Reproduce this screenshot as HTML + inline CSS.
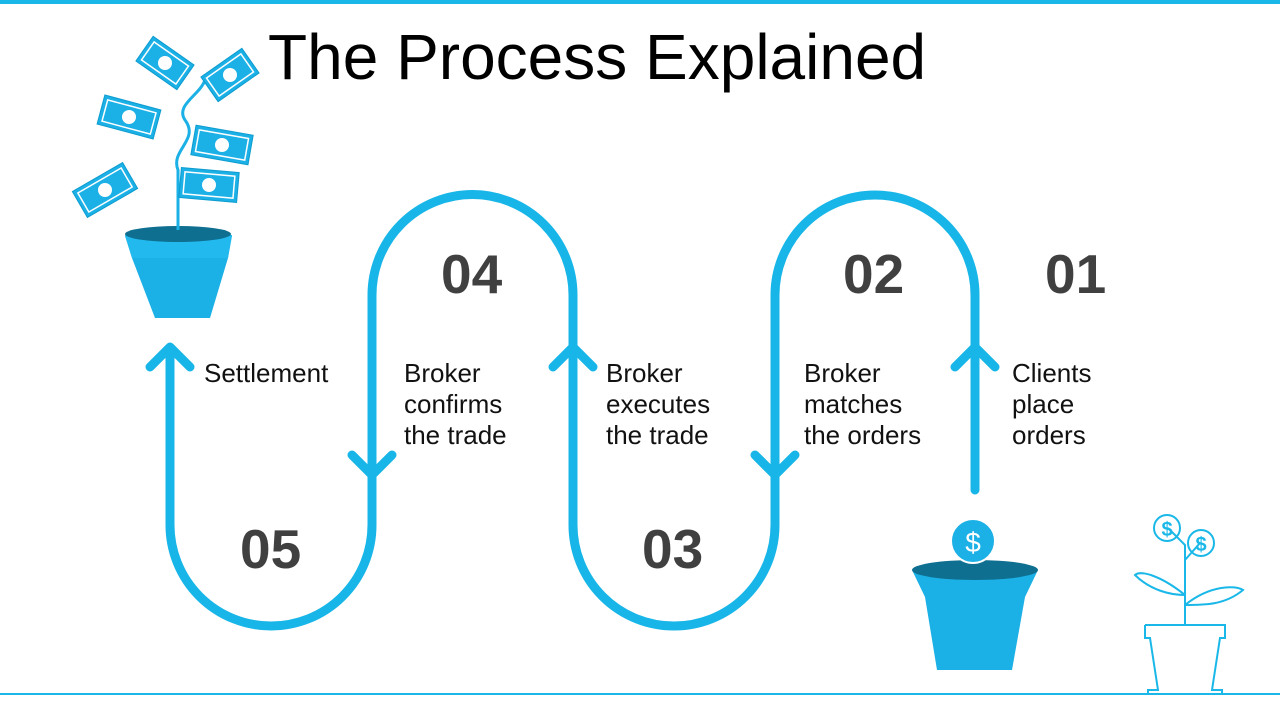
<!DOCTYPE html>
<html><head><style>
body{margin:0;width:1280px;height:720px;background:#fff;overflow:hidden;position:relative;font-family:"Liberation Sans",sans-serif}
.t{position:absolute;font-size:26px;line-height:31px;color:#111}
.n{position:absolute;font-size:55px;font-weight:bold;color:#404040}
</style></head><body>
<div style="position:absolute;left:0;top:0;width:1280px;height:4px;background:#1ab8e8"></div>
<div style="position:absolute;left:268px;top:20px;font-size:64px;color:#000">The Process Explained</div>
<svg width="1280" height="720" style="position:absolute;left:0;top:0">
<g fill="none" stroke="#18b6e8" stroke-width="9" stroke-linecap="round" stroke-linejoin="round">
<path d="M975 490 V295 A100 100 0 0 0 775 295 V525 A100 100 0 0 1 573 525 V295 A100 100 0 0 0 372 295 V525 A101 101 0 0 1 170 525 V350"/>
<path d="M955 367 L975 347 L995 367"/>
<path d="M755 455 L775 475 L795 455"/>
<path d="M553 367 L573 347 L593 367"/>
<path d="M352 455 L372 475 L392 455"/>
<path d="M150 367 L170 347 L190 367"/>
</g>
<line x1="0" y1="694" x2="1280" y2="694" stroke="#1ab8e8" stroke-width="2"/>
<!-- left pot -->
<g>
<path d="M125 235 L232 235 L228 258 L210 318 L155 318 L132 258 Z" fill="#1bb0e6"/>
<path d="M125 236 L232 236 L228 258 L132 258 Z" fill="#22b9ee"/>
<ellipse cx="178" cy="234" rx="53" ry="8" fill="#0e6f90"/>
<path d="M178 230 V170 C170 150 200 140 185 120 C175 105 200 95 205 80" stroke="#1bb0e6" stroke-width="3" fill="none"/>
<g fill="#1bb0e6" stroke="#0e9ccf" stroke-width="1">
<rect x="140" y="48" width="50" height="30" transform="rotate(35 165 63)"/>
<rect x="205" y="60" width="50" height="30" transform="rotate(-35 230 75)"/>
<rect x="100" y="102" width="58" height="30" transform="rotate(15 129 117)"/>
<rect x="193" y="130" width="58" height="30" transform="rotate(10 222 145)"/>
<rect x="180" y="170" width="58" height="30" transform="rotate(5 209 185)"/>
<rect x="76" y="175" width="58" height="30" transform="rotate(-30 105 190)"/>
</g>
<g fill="none" stroke="#fff" stroke-width="1.5">
<rect x="144" y="52" width="42" height="22" transform="rotate(35 165 63)"/>
<rect x="209" y="64" width="42" height="22" transform="rotate(-35 230 75)"/>
<rect x="104" y="106" width="50" height="22" transform="rotate(15 129 117)"/>
<rect x="197" y="134" width="50" height="22" transform="rotate(10 222 145)"/>
<rect x="184" y="174" width="50" height="22" transform="rotate(5 209 185)"/>
<rect x="80" y="179" width="50" height="22" transform="rotate(-30 105 190)"/>
</g>
<g fill="#fff"><circle cx="165" cy="63" r="7"/><circle cx="230" cy="75" r="7"/><circle cx="129" cy="117" r="7"/><circle cx="222" cy="145" r="7"/><circle cx="209" cy="185" r="7"/><circle cx="105" cy="190" r="7"/></g>
</g>
<!-- right pot -->
<path d="M912 570 L1038 570 L1025 597 L1012 670 L937 670 L925 597 Z" fill="#1bb0e6"/>
<ellipse cx="975" cy="570" rx="63" ry="10" fill="#0e6f90"/>
<circle cx="973" cy="541" r="22" fill="#1bb0e6" stroke="#fff" stroke-width="2"/>
<text x="973" y="552" font-size="28" fill="#fff" text-anchor="middle" font-family="Liberation Sans">$</text>
<!-- outline plant -->
<g fill="none" stroke="#1ab8e8" stroke-width="2">
<path d="M1145 625 H1225 V638 H1220 L1212 690 H1222 V694 M1145 625 V638 H1150 L1158 690 H1148 V694"/>
<path d="M1185 625 V545 L1168 528 M1185 560 L1200 543"/>
<circle cx="1167" cy="528" r="13"/><circle cx="1201" cy="543" r="13"/>
<path d="M1185 595 C1160 575 1140 570 1135 575 C1150 590 1170 595 1185 595 M1185 605 C1210 585 1235 585 1243 590 C1225 605 1205 605 1185 605"/>
</g>
<text x="1167" y="536" font-size="20" fill="#1ab8e8" text-anchor="middle" font-weight="bold">$</text>
<text x="1201" y="551" font-size="20" fill="#1ab8e8" text-anchor="middle" font-weight="bold">$</text>
</svg>
<div class="n" style="left:441px;top:242px">04</div>
<div class="n" style="left:843px;top:242px">02</div>
<div class="n" style="left:1045px;top:242px">01</div>
<div class="n" style="left:240px;top:517px">05</div>
<div class="n" style="left:642px;top:517px">03</div>
<div class="t" style="left:204px;top:358px">Settlement</div>
<div class="t" style="left:404px;top:358px">Broker<br>confirms<br>the trade</div>
<div class="t" style="left:606px;top:358px">Broker<br>executes<br>the trade</div>
<div class="t" style="left:804px;top:358px">Broker<br>matches<br>the orders</div>
<div class="t" style="left:1012px;top:358px">Clients<br>place<br>orders</div>
</body></html>
